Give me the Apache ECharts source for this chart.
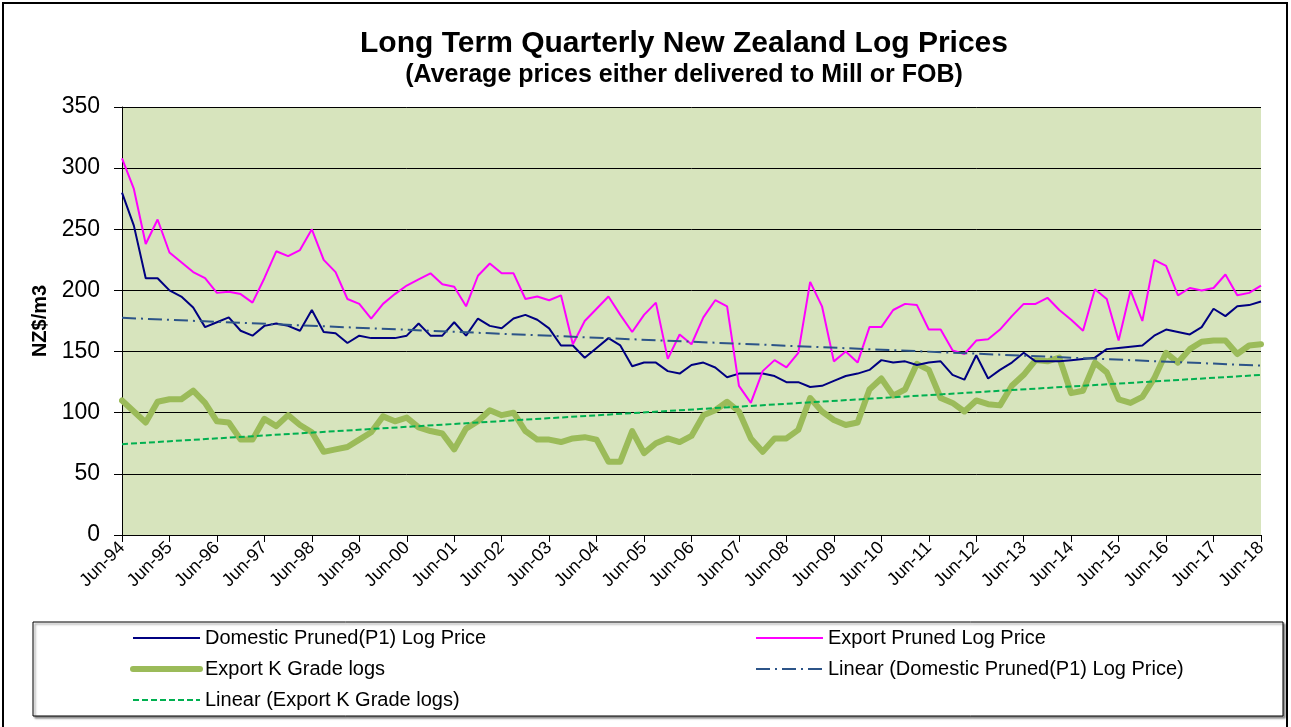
<!DOCTYPE html>
<html>
<head>
<meta charset="utf-8">
<title>Long Term Quarterly New Zealand Log Prices</title>
<script src="https://cdn.jsdelivr.net/npm/echarts@6/dist/echarts.min.js"></script>
<style>
    html, body { margin: 0; padding: 0; background: #fff; overflow: hidden; }
    #logChart { width: 1291px; height: 727px; }
</style>
</head>
<body>
<div id="logChart"></div>
<script>
    // quarterly labels Jun-94 .. Jun-18
    var months = ['Jun', 'Sep', 'Dec', 'Mar'];
    var quarters = [];
    for (var i = 0; i < 97; i++) {
        var yr = 94 + Math.floor((i + 2) / 4);
        quarters.push(months[i % 4] + '-' + String(yr % 100).padStart(2, '0'));
    }

    var domesticPruned = [
        280, 253, 210, 210, 200, 195, 186, 170, 174, 178, 167, 163, 171, 173, 171, 167, 184,
        166, 165, 157, 163, 161, 161, 161, 163, 173, 163, 163, 174, 163, 177, 171, 169, 177,
        180, 176, 169, 155, 155, 145, 153, 161, 155, 138, 141, 141, 134, 132, 139, 141, 137,
        129, 132, 132, 132, 130, 125, 125, 121, 122, 126, 130, 132, 135, 143, 141, 142, 139,
        141, 142, 131, 127, 147, 128, 135, 141, 149, 142, 142, 142, 143, 144, 145, 152, 153,
        154, 155, 163, 168, 166, 164, 170, 185, 179, 187, 188, 191
    ];
    var exportPruned = [
        308, 283, 238, 258, 231, 223, 215, 210, 198, 199, 197, 190, 210, 232, 228, 233, 250,
        225, 215, 193, 189, 177, 189, 197, 204, 209, 214, 205, 203, 187, 212, 222, 214, 214,
        193, 195, 192, 196, 156, 175, 185, 195, 180, 166, 180, 190, 144, 164, 156, 178, 192,
        187, 122, 108, 134, 143, 137, 149, 207, 187, 142, 150, 141, 170, 170, 184, 189, 188,
        168, 168, 151, 148, 159, 160, 168, 179, 189, 189, 194, 184, 176, 167, 201, 193, 159,
        200, 175, 225, 220, 196, 202, 200, 202, 213, 196, 198, 204
    ];
    var exportKGrade = [
        110, 101, 92, 109, 111, 111, 118, 108, 93, 92, 78, 78, 95, 89, 98, 90, 84,
        68, 70, 72, 78, 84, 97, 93, 96, 88, 85, 83, 70, 87, 93, 102, 98, 100,
        85, 78, 78, 76, 79, 80, 78, 60, 60, 85, 67, 75, 79, 76, 81, 98, 102,
        109, 101, 79, 68, 79, 79, 86, 112, 101, 94, 90, 92, 119, 128, 114, 119, 140,
        135, 112, 108, 101, 110, 107, 106, 122, 131, 143, 142, 145, 116, 118, 141, 133, 111,
        108, 113, 128, 149, 141, 152, 158, 159, 159, 148, 155, 156
    ];
    // trend line ends (Jun-94, Jun-18)
    var domesticTrend = [177.6, 138.5];
    var kGradeTrend = [74.3, 130.9];

    var yTicks = [0, 50, 100, 150, 200, 250, 300, 350];

    var fontName = '"Liberation Sans", Arial, sans-serif';

    var chart = echarts.init(document.getElementById('logChart'));
    var last = quarters[quarters.length - 1];

    var legendText = { fontFamily: fontName, fontSize: 20, color: '#000' };

    var option = {
        animation: false,
        textStyle: { fontFamily: fontName, color: '#000' },
        title: {
            text: 'Long Term Quarterly New Zealand Log Prices',
            subtext: '(Average prices either delivered to Mill or FOB)',
            left: 679,
            top: 24,
            textAlign: 'center',
            itemGap: 4,
            textStyle: { fontFamily: fontName, fontSize: 30, fontWeight: 'bold', color: '#000' },
            subtextStyle: { fontFamily: fontName, fontSize: 25, fontWeight: 'bold', color: '#000' }
        },
        graphic: [
            {
                type: 'rect', silent: true, z: -1,
                shape: { x: 3, y: 3, width: 1284, height: 760 },
                style: { fill: 'none', stroke: '#000', lineWidth: 2 }
            },
            {
                type: 'rect', silent: true,
                shape: { x: 33, y: 622, width: 1250, height: 94 },
                style: { fill: '#fff', stroke: '#000', lineWidth: 1,
                    shadowColor: 'rgba(0,0,0,0.45)', shadowOffsetX: 2, shadowOffsetY: 2, shadowBlur: 2 }
            }
        ],
        legend: [
            {
                left: 130, top: 628, orient: 'vertical', padding: 0, height: 95,
                itemWidth: 67, itemHeight: 14, itemGap: 11,
                itemStyle: { opacity: 0 },
                textStyle: legendText,
                data: [
                    'Domestic Pruned(P1) Log Price',
                    { name: 'Export K Grade logs', lineStyle: { width: 6, cap: 'round' } },
                    'Linear (Export K Grade logs)'
                ]
            },
            {
                left: 755, top: 628, orient: 'vertical', padding: 0, height: 95,
                itemWidth: 67, itemHeight: 14, itemGap: 11,
                itemStyle: { opacity: 0 },
                textStyle: legendText,
                data: ['Export Pruned Log Price', 'Linear (Domestic Pruned(P1) Log Price)']
            }
        ],
        grid: {
            left: 122, right: 30, top: 107, bottom: 192,
            show: true, backgroundColor: '#d7e4bd', borderWidth: 0
        },
        xAxis: {
            type: 'category',
            data: quarters,
            boundaryGap: false,
            axisLine: { lineStyle: { color: '#000', width: 1 } },
            axisTick: { interval: 3, length: 7, lineStyle: { color: '#000' } },
            axisLabel: {
                interval: 3, rotate: 45, margin: 10,
                fontFamily: fontName, fontSize: 18, color: '#000'
            },
            splitLine: { show: false }
        },
        yAxis: {
            type: 'value',
            min: yTicks[0], max: yTicks[yTicks.length - 1], interval: 50,
            name: 'NZ$/m3',
            nameLocation: 'middle',
            nameGap: 72,
            nameTextStyle: { fontFamily: fontName, fontSize: 20, fontWeight: 'bold', color: '#000' },
            axisLine: { show: true, lineStyle: { color: '#000', width: 1 } },
            axisTick: { show: true, length: 8, lineStyle: { color: '#000' } },
            axisLabel: { margin: 22, fontFamily: fontName, fontSize: 23, color: '#000' },
            splitLine: { lineStyle: { color: '#000', width: 1 } }
        },
        series: [
            {
                name: 'Domestic Pruned(P1) Log Price',
                type: 'line', symbol: 'none', z: 4,
                lineStyle: { color: '#000080', width: 2 },
                itemStyle: { color: '#000080' },
                data: domesticPruned
            },
            {
                name: 'Export Pruned Log Price',
                type: 'line', symbol: 'none', z: 4,
                lineStyle: { color: '#ff00ff', width: 2 },
                itemStyle: { color: '#ff00ff' },
                data: exportPruned
            },
            {
                name: 'Export K Grade logs',
                type: 'line', symbol: 'none', z: 3,
                lineStyle: { color: '#9bbb59', width: 6, join: 'round', cap: 'round' },
                itemStyle: { color: '#9bbb59' },
                data: exportKGrade
            },
            {
                name: 'Linear (Domestic Pruned(P1) Log Price)',
                type: 'line', symbol: 'none', z: 5,
                lineStyle: { color: '#2c5488', width: 2, type: [14, 5, 2, 5] },
                itemStyle: { color: '#2c5488' },
                data: [[quarters[0], domesticTrend[0]], [last, domesticTrend[1]]]
            },
            {
                name: 'Linear (Export K Grade logs)',
                type: 'line', symbol: 'none', z: 5,
                lineStyle: { color: '#00b050', width: 2, type: [6, 3] },
                itemStyle: { color: '#00b050' },
                data: [[quarters[0], kGradeTrend[0]], [last, kGradeTrend[1]]]
            }
        ]
    };

    chart.setOption(option);
</script>
</body>
</html>
